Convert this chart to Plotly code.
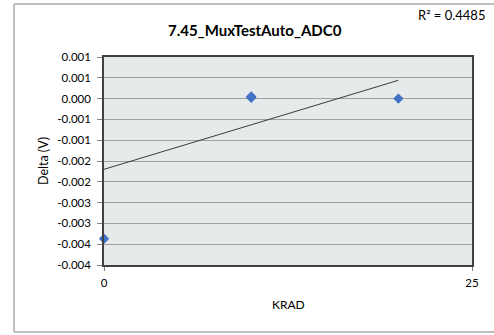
import plotly.graph_objects as go

# Data
krad = [0, 10, 10, 10, 20]
delta_v = [-0.00337, 0.00002, 0.00004, 0.00005, 0.0]

trend_x = [0, 20]
trend_y = [-0.0017, 0.00044]

y_tickvals = [0.001, 0.0005, 0.0, -0.0005, -0.001, -0.0015, -0.002, -0.0025, -0.003, -0.0035, -0.004]
y_ticktext = ["0.001", "0.001", "0.000", "-0.001", "-0.001", "-0.002", "-0.002", "-0.003", "-0.003", "-0.004", "-0.004"]
x_tickvals = [0, 25]
x_ticktext = ["0", "25"]

title_text = "7.45_MuxTestAuto_ADC0"
r2_text = "R² = 0.4485"

FONT = "Lato, 'Open Sans', sans-serif"

fig = go.Figure()
fig.add_trace(go.Scatter(
    x=trend_x, y=trend_y, mode="lines",
    line=dict(color="#3a3a3a", width=1), hoverinfo="skip", showlegend=False))
fig.add_trace(go.Scatter(
    x=krad, y=delta_v, mode="markers",
    marker=dict(symbol="diamond", size=8, color="#4472C4"),
    cliponaxis=False, showlegend=False))

L, R, T, B = 104, 22, 57, 70
W, H = 494, 335
pw, ph = W - L - R, H - T - B

def px(x):
    return (x - L) / pw

def py(y):
    return (H - B - y) / ph

frame = dict(color="#BFBFBF", width=2)
fx0, fx1, fy0, fy1 = px(14), px(494), py(332), py(4)
shapes = [
    dict(type="line", xref="paper", yref="paper", x0=fx0, x1=fx1, y0=fy1, y1=fy1, line=frame, layer="below"),
    dict(type="line", xref="paper", yref="paper", x0=fx0, x1=fx1, y0=fy0, y1=fy0, line=frame, layer="below"),
    dict(type="line", xref="paper", yref="paper", x0=fx0, x1=fx0, y0=fy0, y1=fy1, line=frame, layer="below"),
]

def label(text, x, y, size, angle=0):
    return dict(text=text, xref="paper", yref="paper", x=px(x), y=py(y),
                xanchor="center", yanchor="middle", textangle=angle,
                showarrow=False, font=dict(size=size, family=FONT))

fig.update_layout(
    width=W, height=H,
    margin=dict(l=L, r=R, t=T, b=B),
    paper_bgcolor="white",
    plot_bgcolor="#E6EAEA",
    font=dict(family=FONT, color="#000000", size=11),
    xaxis=dict(range=[0, 25], tickvals=x_tickvals, ticktext=x_ticktext,
               showgrid=False, zeroline=False, showline=True, linecolor="#404040",
               linewidth=1.5, mirror=True, ticks="outside", ticklen=4, tickcolor="#808080",
               tickfont=dict(size=11.5, family=FONT), ticklabelstandoff=2),
    yaxis=dict(range=[-0.004, 0.001], tickvals=y_tickvals, ticktext=y_ticktext,
               showgrid=True, gridcolor="#A0A0A0", gridwidth=1.2, zeroline=False,
               showline=True, linecolor="#404040", linewidth=1.5, mirror=True,
               ticks="outside", ticklen=5, tickcolor="#808080",
               tickfont=dict(size=11.5, family=FONT), ticklabelstandoff=4),
    shapes=shapes,
    annotations=[
        label("<b>" + title_text + "</b>", 255, 30, 15),
        label(r2_text, 451, 15, 13),
        label("Delta (V)", 43, 161, 12.5, -90),
        label("KRAD", 288, 304, 12),
    ],
)

fig.write_html(
    "out.html",
    config={"displayModeBar": False},
    post_script=("document.body.style.margin='0';document.body.style.overflow='hidden';"
                 "document.documentElement.style.overflow='hidden';"),
)
